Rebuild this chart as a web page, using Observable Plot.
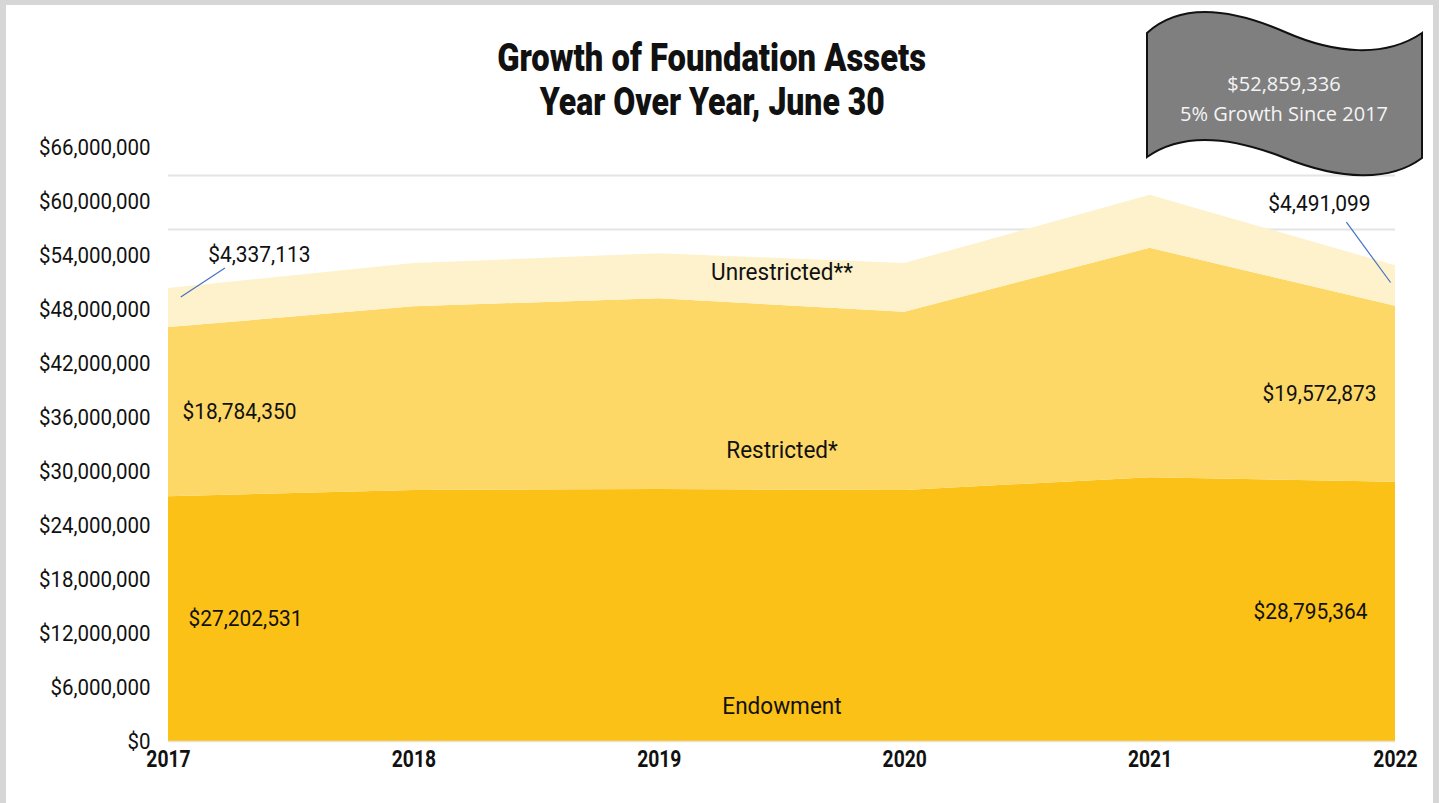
<!DOCTYPE html>
<html>
<head>
<meta charset="utf-8">
<script src="https://cdn.jsdelivr.net/npm/d3@7"></script>
<script src="https://cdn.jsdelivr.net/npm/@observablehq/plot@0.6"></script>
<style>
  html, body { margin:0; padding:0; background:#d6d6d6; }
  #page { position:relative; width:1439px; height:803px; overflow:hidden; background:#d6d6d6; }
  #card { position:absolute; left:6px; top:5px; width:1427px; height:800px; background:#fff; }
  #title { position:absolute; left:0; top:36px; width:1424px; text-align:center;
           font-family:Roboto,"Liberation Sans",sans-serif;
           font-weight:900; font-size:38px; line-height:44px; color:#111; }
  #title span { display:inline-block; transform-origin:center; white-space:nowrap; }
  #chart { position:absolute; left:0; top:140px; }
  #banner { position:absolute; left:1140px; top:0; }
</style>
</head>
<body>
<div id="page">
  <div id="card"></div>
  <div id="title"><span id="t1">Growth of Foundation Assets</span><br><span id="t2">Year Over Year, June 30</span></div>
  <div id="chart"></div>
  <svg id="banner" width="300" height="185" viewBox="1140 0 300 185">
    <path d="M1147,33 C1180,3 1230,8 1285,32 C1335,54 1385,58 1422,33 L1422,158 C1390,182 1340,180 1285,158 C1235,138 1185,130 1147,157 Z"
          fill="#7f7f7f" stroke="#111" stroke-width="2"/>
    <text x="1284" y="91" text-anchor="middle" fill="#f4f4f4" font-family="'Open Sans','Noto Sans',sans-serif" font-size="20">$52,859,336</text>
    <text x="1284" y="121" text-anchor="middle" fill="#f4f4f4" font-family="'Open Sans','Noto Sans',sans-serif" font-size="20">5% Growth Since 2017</text>
  </svg>
</div>
<script>
// ---- data ----
const years = [2017, 2018, 2019, 2020, 2021, 2022];
const seriesNames = ["Endowment", "Restricted*", "Unrestricted**"];
const endowment    = [27202531, 27900000, 28000000, 27900000, 29300000, 28795364];
const restricted   = [18784350, 20400000, 21200000, 19800000, 25500000, 19572873];
const unrestricted = [4337113, 4800000, 5000000, 5400000, 5900000, 4491099];
const yTicks = [0, 6e6, 12e6, 18e6, 24e6, 30e6, 36e6, 42e6, 48e6, 54e6, 60e6, 66e6];
const seriesColors = ["#FBC116", "#FDD866", "#FDF2CC"];

// ---- build table ----
const valuesBySeries = [endowment, restricted, unrestricted];
const rows = [];
seriesNames.forEach((s, i) => years.forEach((yr, j) => rows.push({year: yr, series: s, value: valuesBySeries[i][j]})));

const fmt = v => "$" + d3.format(",")(v);
const first = 0, last = years.length - 1;

// value labels at the ends, placed at band middles
const startRestricted = [{year: years[first], y: endowment[first] + restricted[first] / 2, text: fmt(restricted[first])}];
const startEndowment  = [{year: years[first], y: endowment[first] / 2, text: fmt(endowment[first])}];
const endRestricted   = [{year: years[last], y: endowment[last] + restricted[last] / 2, text: fmt(restricted[last])}];
const endEndowment    = [{year: years[last], y: endowment[last] / 2, text: fmt(endowment[last])}];
// unrestricted callouts (label above the band with leader line)
const callouts = [
  {x1: 2017.05, y1: 49.4e6, x2: 2017.23, y2: 52.6e6, tx: 2017.37, ty: 54.1e6, text: fmt(unrestricted[first])},
  {x1: 2021.98, y1: 51.0e6, x2: 2021.80, y2: 57.7e6, tx: 2021.69, ty: 59.7e6, text: fmt(unrestricted[last])}
];
// series name labels
const nameLabels = [
  {x: 2019.5, y: 52.1e6, text: "Unrestricted**"},
  {x: 2019.5, y: 32.3e6, text: "Restricted*"},
  {x: 2019.5, y: 3.9e6, text: "Endowment"}
];
const backGrid = [56.9e6, 62.9e6];

const font = "Roboto, 'Liberation Sans', sans-serif";
const ink = "#111";

const chart = Plot.plot({
  width: 1439,
  height: 640,
  marginLeft: 168,
  marginRight: 44,
  marginTop: 7,
  marginBottom: 39,
  style: {fontFamily: font, background: "transparent", color: ink, overflow: "visible"},
  x: {domain: [years[first], years[last]], axis: null},
  y: {domain: [0, 66e6], axis: null},
  color: {domain: seriesNames, range: seriesColors},
  marks: [
    Plot.ruleY(backGrid, {stroke: "#e4e4e4", strokeWidth: 2}),
    Plot.areaY(rows, {x: "year", y: "value", z: "series", fill: "series"}),
    Plot.ruleY([0], {stroke: "#e6e2d8", strokeWidth: 1.5}),
    // axes drawn as text marks so they can be condensed
    Plot.text(yTicks, {y: d => d, text: fmt, frameAnchor: "left", textAnchor: "end", dx: -18, fontSize: 22, fill: ink}),
    Plot.text(years, {x: d => d, text: d => String(d), frameAnchor: "bottom", dy: 25, fontSize: 23, fontWeight: "bold", fill: ink}),
    Plot.text(startRestricted, {x: "year", y: "y", text: "text", textAnchor: "start", dx: 14, fontSize: 22, fill: ink}),
    Plot.text(startEndowment, {x: "year", y: "y", text: "text", textAnchor: "start", dx: 20, fontSize: 22, fill: ink}),
    Plot.text(endRestricted, {x: "year", y: "y", text: "text", textAnchor: "end", dx: -19, fontSize: 22, fill: ink}),
    Plot.text(endEndowment, {x: "year", y: "y", text: "text", textAnchor: "end", dx: -28, fontSize: 22, fill: ink}),
    Plot.link(callouts, {x1: "x1", y1: "y1", x2: "x2", y2: "y2", stroke: "#4472C4", strokeWidth: 1.2}),
    Plot.text(callouts, {x: "tx", y: "ty", text: "text", fontSize: 22, fill: ink}),
    Plot.text(nameLabels, {x: "x", y: "y", text: "text", fontSize: 23, fill: ink})
  ]
});
document.getElementById("chart").appendChild(chart);

// condensed look: shrink every chart text's advance with textLength
function squeezeAll() {
  chart.querySelectorAll("text").forEach(t => {
    if (t.hasAttribute("textLength")) return;
    let w = 0;
    try { w = t.getComputedTextLength(); } catch (e) { w = 0; }
    if (!(w > 0)) return;
    const s = t.textContent;
    let k = 0.95;                                            // value labels
    if (s === "$0" || /^\$\d{1,2}(,000){2}$/.test(s)) k = 0.93; // y tick labels
    else if (/^\d{4}$/.test(s)) k = 0.84;                   // year labels
    else if (/[A-Za-z]/.test(s)) k = 0.98;                  // series names
    t.setAttribute("textLength", (w * k).toFixed(1));
    t.setAttribute("lengthAdjust", "spacingAndGlyphs");
  });
}
squeezeAll();

// title fitted to the reference width
const targets = {t1: 429, t2: 345};
for (const id in targets) {
  const el = document.getElementById(id);
  const w = el.getBoundingClientRect().width;
  el.style.transform = `scaleX(${targets[id] / w})`;
}
</script>
</body>
</html>
